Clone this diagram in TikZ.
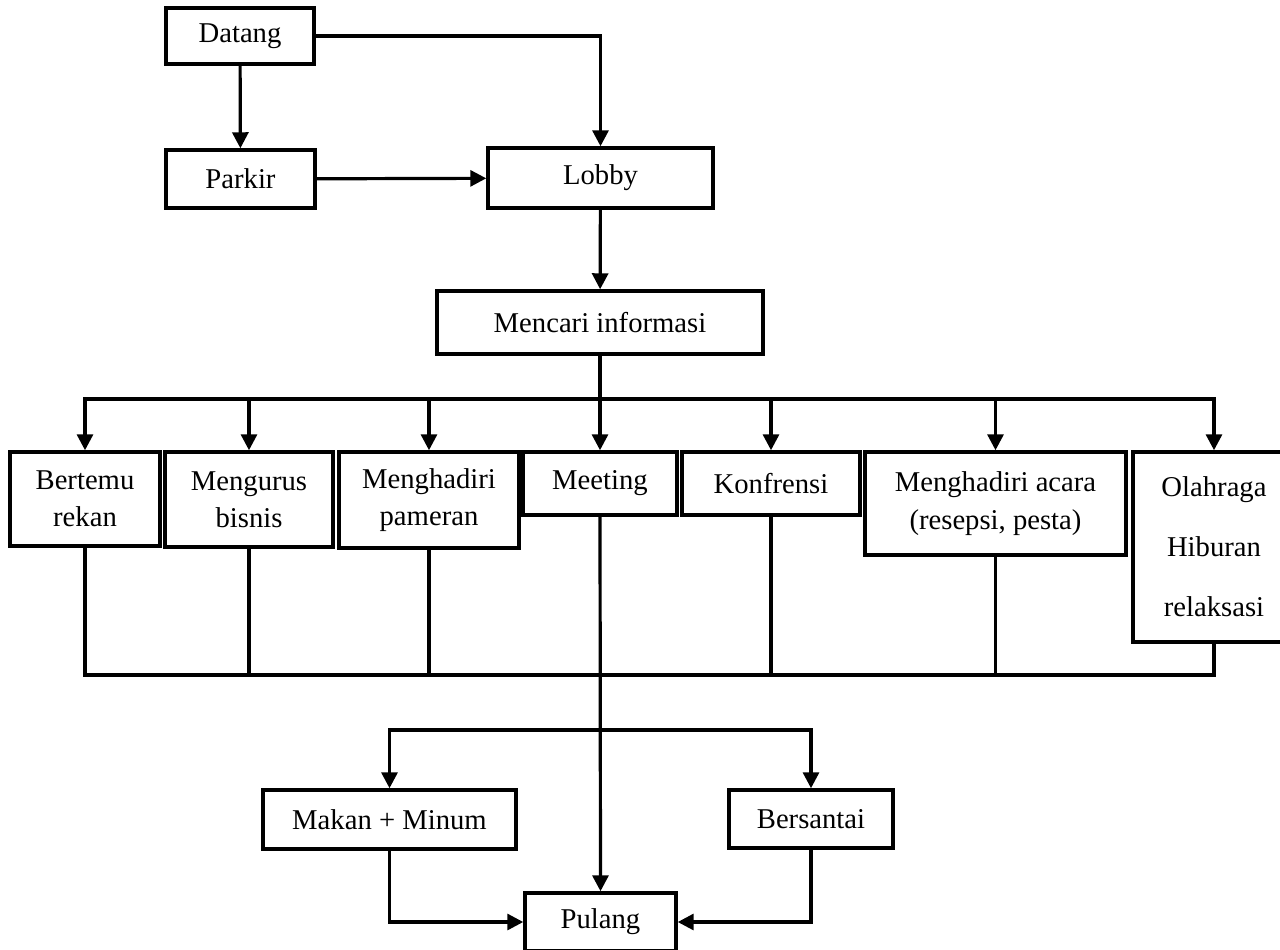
\documentclass[tikz,border=0pt]{standalone}
\usepackage{fontspec}
\setmainfont{Liberation Serif}
\usetikzlibrary{arrows.meta}

\begin{document}
\begin{tikzpicture}[x=0.75pt, y=-0.75pt,
  box/.style={draw, line width=2.6pt, rectangle, inner sep=0pt, align=center,
    font=\fontsize{21.5}{28}\selectfont},
  size/.style 2 args={minimum width={0.75pt*#1}, minimum height={0.75pt*#2}},
  line/.style={line width=2.4pt},
  arr/.style={line width=2.4pt, -{Triangle[length=12pt,width=12pt]}}]

\useasboundingbox (0,0) rectangle (1280,949);
\clip (0,0) rectangle (1280,949);

% top part
\node[box, size={148}{56}] (datang) at (240,36) {Datang};
\node[box, size={149}{58}] (parkir) at (240.5,179) {Parkir};
\node[box, size={225}{60}] (lobby) at (600.5,178) {Lobby};
\node[box, size={326}{63}] (mencari) at (600,322.5) {Mencari informasi};

% activity row
\node[box, size={150}{94}] (bertemu) at (85,499) {Bertemu\\rekan};
\node[box, size={168}{95}] (mengurus) at (249,499.5) {Mengurus\\bisnis};
\node[box, size={180}{96}] (pameran) at (429,500) {Menghadiri\\pameran};
\node[box, size={154}{63}] (meeting) at (600,483.5) {Meeting};
\node[box, size={178}{63}] (konfrensi) at (771,483.5) {Konfrensi};
\node[box, size={261}{103}] (acara) at (995.5,503.5) {Menghadiri acara\\(resepsi, pesta)};
\node[box, size={162}{190}, font=\fontsize{21.5}{45}\selectfont]
  (olahraga) at (1214,547) {Olahraga\\Hiburan\\relaksasi};

% bottom part
\node[box, size={253}{59}] (makan) at (389.5,819.5) {Makan + Minum};
\node[box, size={164}{58}] (bersantai) at (811,819) {Bersantai};
\node[box, size={151}{58}] (pulang) at (600.5,922) {Pulang};

% junction points
\coordinate (busT) at (600,399);
\coordinate (busB) at (600,675);
\coordinate (split) at (600,730);

% connectors
\draw[arr] (datang) -- (parkir);
\draw[arr] (datang.east) -| (lobby.north);
\draw[arr] (parkir) -- (lobby);
\draw[arr] (lobby) -- (mencari);
\draw[line] (mencari.south) -- (busT);
\foreach \n in {bertemu,mengurus,pameran,meeting,konfrensi,acara,olahraga}
  \draw[arr] (busT) -| (\n.north);
\foreach \n in {bertemu,mengurus,pameran,konfrensi,acara,olahraga}
  \draw[line] (\n.south) |- (busB);
\draw[arr] (meeting.south) -- (pulang.north);
\draw[arr] (split) -| (makan.north);
\draw[arr] (split) -| (bersantai.north);
\draw[arr] (makan.south) |- (pulang.west);
\draw[arr] (bersantai.south) |- (pulang.east);

\end{tikzpicture}
\end{document}
